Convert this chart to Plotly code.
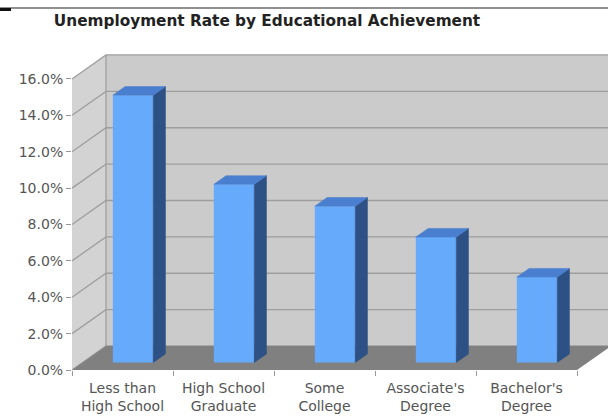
import plotly.graph_objects as go

# ---- data ----
categories = ["Less than<br>High School", "High School<br>Graduate", "Some<br>College",
              "Associate's<br>Degree", "Bachelor's<br>Degree"]
rates = [14.7, 9.8, 8.6, 6.9, 4.7]
y_ticks = [0, 2, 4, 6, 8, 10, 12, 14, 16]
y_tick_labels = ["0.0%", "2.0%", "4.0%", "6.0%", "8.0%", "10.0%", "12.0%", "14.0%", "16.0%"]
title_text = "Unemployment Rate by Educational Achievement"

# ---- 3D oblique projection parameters (in data units) ----
DX = 0.3366      # horizontal shift for full depth (category units)
DY = 1.319       # vertical shift for full depth (% units)
D0, D1 = 0.31, 0.67   # bar depth span
HW = 0.2         # bar half width
n = len(categories)
xs = list(range(n))
xL, xR = -0.5, n - 0.5
ymax = y_ticks[-1]

BACK = "#cbcbcb"
SIDE = "#d3d3d3"
FLOOR = "#808080"
GRID = "#9e9e9e"
FRONT_C = "#66aafc"
TOP_C = "#4a7fcf"
SIDE_C = "#2d5185"


def poly(px, py):
    return "M " + " L ".join(f"{a},{b}" for a, b in zip(px, py)) + " Z"


shapes = []
# back wall
shapes.append(dict(type="path", xref="x", yref="y", layer="below",
                   path=poly([xL + DX, xR + DX, xR + DX, xL + DX], [DY, DY, ymax + DY, ymax + DY]),
                   fillcolor=BACK, line=dict(width=0)))
# side wall
shapes.append(dict(type="path", xref="x", yref="y", layer="below",
                   path=poly([xL, xL + DX, xL + DX, xL], [0, DY, ymax + DY, ymax]),
                   fillcolor=SIDE, line=dict(width=0)))
# gridlines
for v in y_ticks:
    shapes.append(dict(type="path", xref="x", yref="y", layer="below",
                       path=f"M {xL},{v} L {xL + DX},{v + DY} L {xR + DX},{v + DY}",
                       line=dict(color=GRID, width=1.3)))
# back corner line
shapes.append(dict(type="line", xref="x", yref="y", layer="below",
                   x0=xL + DX, x1=xL + DX, y0=DY, y1=ymax + DY,
                   line=dict(color=GRID, width=1.3)))
# floor
shapes.append(dict(type="path", xref="x", yref="y", layer="below",
                   path=poly([xL, xR, xR + DX, xL + DX], [0, 0, DY, DY]),
                   fillcolor=FLOOR, line=dict(width=0)))

traces = []
# bars: front faces
traces.append(go.Bar(x=[i + D0 * DX for i in xs], y=rates, base=[D0 * DY] * n,
                     width=2 * HW, marker=dict(color=FRONT_C, line=dict(width=0)),
                     hoverinfo="skip"))
# bars: side and top faces
for i, v in zip(xs, rates):
    r0 = i + HW + D0 * DX
    r1 = i + HW + D1 * DX
    l0 = i - HW + D0 * DX
    l1 = i - HW + D1 * DX
    traces.append(go.Scatter(x=[r0, r1, r1, r0, r0],
                             y=[D0 * DY, D1 * DY, v + D1 * DY, v + D0 * DY, D0 * DY],
                             fill="toself", fillcolor=SIDE_C, mode="lines",
                             line=dict(color=SIDE_C, width=0.5), hoverinfo="skip"))
    traces.append(go.Scatter(x=[l0, r0, r1, l1, l0],
                             y=[v + D0 * DY, v + D0 * DY, v + D1 * DY, v + D1 * DY, v + D0 * DY],
                             fill="toself", fillcolor=TOP_C, mode="lines",
                             line=dict(color=TOP_C, width=0.5), hoverinfo="skip"))

fig = go.Figure(traces)

W, H = 608, 417
ml, mr, mt, mb = 72, 0, 50, 47
px_per_cat = 101.0
px_per_pct = 18.19
x_max = xL + (W - ml - mr) / px_per_cat
y_top = (H - mt - mb) / px_per_pct

shapes += [
    dict(type="line", xref="paper", yref="paper", x0=-0.2, x1=1.1,
         y0=(H - mb - 8) / (H - mt - mb), y1=(H - mb - 8) / (H - mt - mb),
         line=dict(color="#222222", width=1.2)),
    dict(type="line", xref="paper", yref="paper", x0=-ml / (W - ml), x1=(11 - ml) / (W - ml),
         y0=(H - mb - 9.5) / (H - mt - mb), y1=(H - mb - 9.5) / (H - mt - mb),
         line=dict(color="#111111", width=3)),
]

fig.update_layout(
    width=W, height=H,
    margin=dict(l=ml, r=mr, t=mt, b=mb, pad=0),
    paper_bgcolor="white", plot_bgcolor="rgba(0,0,0,0)",
    showlegend=False, hovermode=False,
    font=dict(family="DejaVu Sans", size=14, color="#555555"),
    title=dict(text="<b>" + title_text + "</b>", xref="container", yref="container",
               x=267 / W, xanchor="center", y=1 - 21 / H, yanchor="middle",
               font=dict(family="DejaVu Sans", size=15.3, color="#222222")),
    xaxis=dict(range=[xL, x_max], tickvals=xs, ticktext=categories,
               showgrid=False, zeroline=False, showline=False, ticks="",
               ticklabelstandoff=8,
               tickfont=dict(size=14, color="#555555"),
               minor=dict(tickvals=[xL + k for k in range(n + 1)], ticks="outside",
                          ticklen=5, tickcolor="#999999", showgrid=False)),
    yaxis=dict(range=[0, y_top], tickmode="array", tickvals=y_ticks, ticktext=y_tick_labels,
               showgrid=False, zeroline=False, showline=False,
               ticks="outside", ticklen=5, tickcolor="#999999",
               tickfont=dict(size=14, color="#555555")),
    shapes=shapes,
)

fig.write_html("out.html", config={"displayModeBar": False})
